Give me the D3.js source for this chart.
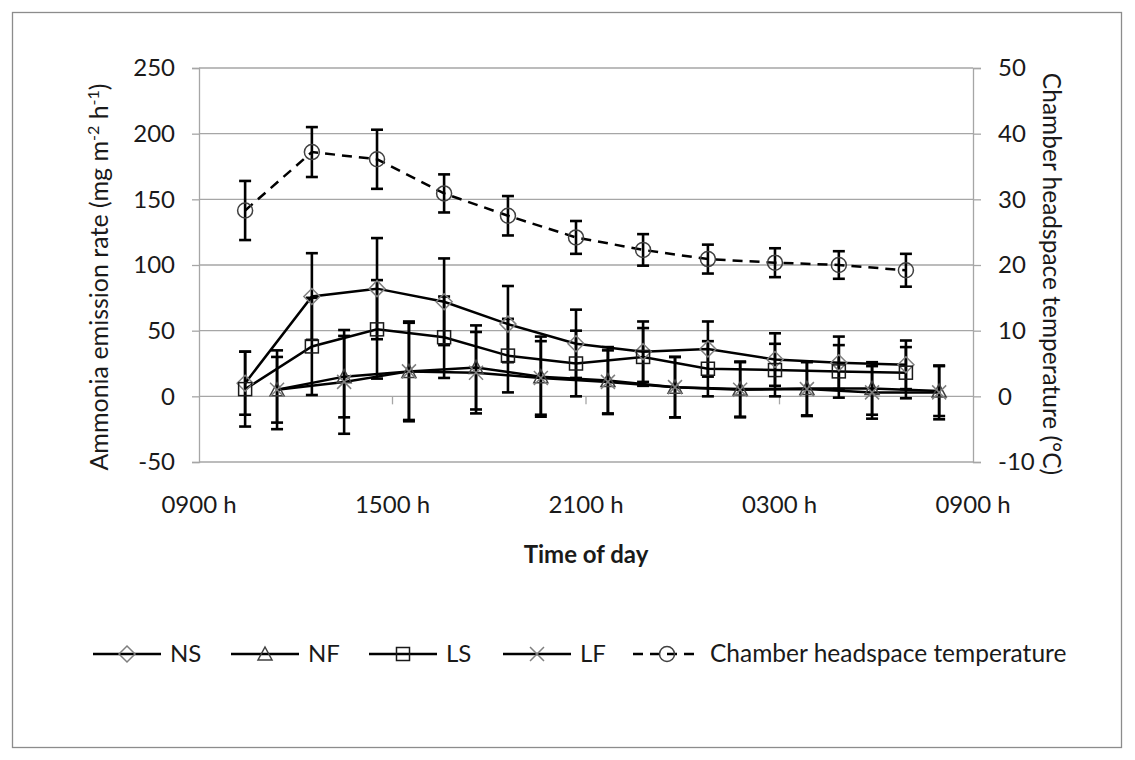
<!DOCTYPE html>
<html>
<head>
<meta charset="utf-8">
<script src="https://cdn.jsdelivr.net/npm/d3@7"></script>
<style>
  body { margin: 0; background: #fff; }
  svg { display: block; font-family: Lato, "Open Sans", sans-serif; }
</style>
</head>
<body>
<svg id="chart" width="1135" height="760"></svg>
<script>
// Sampling times, hours elapsed since 0900 h
const hoursSlurry = [1.43, 3.50, 5.52, 7.60, 9.58, 11.69, 13.77, 15.78, 17.86, 19.84, 21.92];
const hoursFresh  = [2.42, 4.50, 6.51, 8.59, 10.60, 12.68, 14.76, 16.78, 18.85, 20.87, 22.95];

// Ammonia emission rate (mg m-2 h-1) and error half-widths
const nsValues = [10, 76, 82, 72, 55, 40, 34, 36, 28, 25.5, 24];
const nsErrors = [24, 33, 38.5, 33, 29, 26, 23, 21, 20, 20, 18.5];
const lsValues = [5.5, 38, 51, 45, 31, 25, 30, 21, 20, 19, 18];
const lsErrors = [28.5, 37, 37.5, 31, 28, 25, 22, 21, 20, 20, 19.5];
const nfValues = [5, 15, 19, 22, 15, 12, 7, 5.5, 6, 6, 4];
const nfErrors = [30, 31, 37, 32, 30.5, 25.5, 23, 21, 20.5, 20, 19];
const lfValues = [5, 11, 19, 18, 14, 11, 7, 5, 5.5, 3, 3];
const lfErrors = [25, 39.5, 38, 31, 28, 24, 23, 21, 20.5, 20, 20.5];

// Chamber headspace temperature (°C)
const tempValues = [28.3, 37.2, 36.1, 30.9, 27.5, 24.2, 22.3, 20.9, 20.35, 20.0, 19.2];
const tempErrors = [4.5, 3.8, 4.5, 2.9, 3.0, 2.5, 2.4, 2.2, 2.2, 2.1, 2.5];

// Axis ticks
const xTickHours  = [0, 6, 12, 18, 24];
const xTickLabels = ["0900 h", "1500 h", "2100 h", "0300 h", "0900 h"];
const leftTicks   = [-50, 0, 50, 100, 150, 200, 250];
const rightTicks  = [-10, 0, 10, 20, 30, 40, 50];

const svg = d3.select("#chart");
const FONT = 24;
const TEXT = "#1a1a1a";
const GRID = "#a6a6a6";

// Chart area frame
svg.append("rect")
  .attr("x", 12.5).attr("y", 12.5).attr("width", 1109).attr("height", 735)
  .attr("fill", "#fff").attr("stroke", "#8c8c8c").attr("stroke-width", 1.3);

const x  = d3.scaleLinear().domain([0, 24]).range([199, 973]);
const yL = d3.scaleLinear().domain([-50, 250]).range([462, 68]);
const yR = d3.scaleLinear().domain([-10, 50]).range([462, 68]);

// Horizontal gridlines
svg.append("g").selectAll("line").data(leftTicks).join("line")
  .attr("x1", x(0)).attr("x2", x(24))
  .attr("y1", d => yL(d)).attr("y2", d => yL(d))
  .attr("stroke", GRID).attr("stroke-width", 1.3);

// Left axis
const gL = svg.append("g").attr("transform", `translate(${x(0)},0)`)
  .call(d3.axisLeft(yL).tickValues(leftTicks).tickFormat(d => String(d)).tickSize(7).tickPadding(17));
gL.select(".domain").attr("stroke", GRID).attr("stroke-width", 1.3);
gL.selectAll(".tick line").attr("stroke", GRID).attr("stroke-width", 1.3);
gL.selectAll(".tick text").attr("font-size", FONT).attr("fill", TEXT)
  .attr("font-family", "Lato, sans-serif");

// Right axis
const gR = svg.append("g").attr("transform", `translate(${x(24)},0)`)
  .call(d3.axisRight(yR).tickValues(rightTicks).tickFormat(d => String(d)).tickSize(8).tickPadding(17));
gR.select(".domain").attr("stroke", GRID).attr("stroke-width", 1.3);
gR.selectAll(".tick line").attr("stroke", GRID).attr("stroke-width", 1.3);
gR.selectAll(".tick text").attr("font-size", FONT).attr("fill", TEXT)
  .attr("font-family", "Lato, sans-serif");

// Category axis crossing at zero, with its labels placed below the plot
svg.append("g").selectAll("line").data(xTickHours.slice(1, -1)).join("line")
  .attr("x1", d => x(d)).attr("x2", d => x(d))
  .attr("y1", yL(0)).attr("y2", yL(0) + 8)
  .attr("stroke", GRID).attr("stroke-width", 1.3);

svg.append("g").selectAll("text").data(xTickHours).join("text")
  .attr("x", d => x(d)).attr("y", 513)
  .attr("text-anchor", "middle").attr("font-size", FONT).attr("fill", TEXT)
  .text((d, i) => xTickLabels[i]);

// Axis titles
svg.append("text")
  .attr("x", x(12)).attr("y", 563)
  .attr("text-anchor", "middle").attr("font-size", FONT).attr("font-weight", "bold")
  .attr("fill", TEXT).text("Time of day");

const yTitle = svg.append("text")
  .attr("transform", "translate(108,277) rotate(-90)")
  .attr("text-anchor", "middle").attr("font-size", 25).attr("fill", TEXT);
yTitle.append("tspan").text("Ammonia emission rate (mg m");
yTitle.append("tspan").attr("font-size", 16).attr("dy", -9).text("-2");
yTitle.append("tspan").attr("dy", 9).text(" h");
yTitle.append("tspan").attr("font-size", 16).attr("dy", -9).text("-1");
yTitle.append("tspan").attr("dy", 9).text(")");

svg.append("text")
  .attr("transform", "translate(1043,274) rotate(90)")
  .attr("text-anchor", "middle").attr("font-size", 24.5).attr("fill", TEXT)
  .text("Chamber headspace temperature (°C)");

// Series definitions
const series = [
  { name: "NS", hours: hoursSlurry, values: nsValues, errors: nsErrors, y: yL, marker: "diamond", color: "#7f7f7f" },
  { name: "NF", hours: hoursFresh,  values: nfValues, errors: nfErrors, y: yL, marker: "triangle", color: "#404040" },
  { name: "LS", hours: hoursSlurry, values: lsValues, errors: lsErrors, y: yL, marker: "square", color: "#1a1a1a" },
  { name: "LF", hours: hoursFresh,  values: lfValues, errors: lfErrors, y: yL, marker: "cross", color: "#7f7f7f" },
  { name: "Chamber headspace temperature", hours: hoursSlurry, values: tempValues, errors: tempErrors, y: yR, marker: "circle", color: "#404040", dashed: true }
];

function drawMarker(g, type, cx, cy, color) {
  const s = 7;
  if (type === "diamond") {
    g.append("path").attr("d", `M${cx},${cy - s - 1}L${cx + s + 1},${cy}L${cx},${cy + s + 1}L${cx - s - 1},${cy}Z`)
      .attr("fill", "none").attr("stroke", color).attr("stroke-width", 1.5);
  } else if (type === "triangle") {
    g.append("path").attr("d", `M${cx},${cy - s}L${cx + s},${cy + s - 1}L${cx - s},${cy + s - 1}Z`)
      .attr("fill", "none").attr("stroke", color).attr("stroke-width", 1.5);
  } else if (type === "square") {
    g.append("rect").attr("x", cx - 6.5).attr("y", cy - 6.5).attr("width", 13).attr("height", 13)
      .attr("fill", "none").attr("stroke", color).attr("stroke-width", 1.5);
  } else if (type === "cross") {
    g.append("path").attr("d", `M${cx - s},${cy - s}L${cx + s},${cy + s}M${cx - s},${cy + s}L${cx + s},${cy - s}`)
      .attr("fill", "none").attr("stroke", color).attr("stroke-width", 1.5);
  } else if (type === "circle") {
    g.append("circle").attr("cx", cx).attr("cy", cy).attr("r", 7.5)
      .attr("fill", "none").attr("stroke", color).attr("stroke-width", 1.5);
  }
}

const plot = svg.append("g");

// Error bars
series.forEach(s => {
  const g = plot.append("g");
  s.values.forEach((v, i) => {
    const cx = x(s.hours[i]);
    const top = s.y(v + s.errors[i]);
    const bot = s.y(v - s.errors[i]);
    g.append("line").attr("x1", cx).attr("x2", cx).attr("y1", top).attr("y2", bot)
      .attr("stroke", "#000").attr("stroke-width", 2.6);
    [top, bot].forEach(yy => g.append("line")
      .attr("x1", cx - 6).attr("x2", cx + 6).attr("y1", yy).attr("y2", yy)
      .attr("stroke", "#000").attr("stroke-width", 2.6));
  });
});

// Series lines
series.forEach(s => {
  const line = d3.line().x((d, i) => x(s.hours[i])).y(d => s.y(d));
  plot.append("path").attr("d", line(s.values))
    .attr("fill", "none").attr("stroke", "#000").attr("stroke-width", 2.5)
    .attr("stroke-dasharray", s.dashed ? "10,7" : null);
});

// Markers
series.forEach(s => {
  const g = plot.append("g");
  s.values.forEach((v, i) => drawMarker(g, s.marker, x(s.hours[i]), s.y(v), s.color));
});

// Legend: one entry per series, symbol line followed by its name
const legendStarts = [93, 231, 369, 503, 633];
const ly = 654;
series.forEach((s, i) => {
  const lx = legendStarts[i];
  const g = legend_g().append("g");
  g.append("line").attr("x1", lx).attr("x2", lx + 68).attr("y1", ly).attr("y2", ly)
    .attr("stroke", "#000").attr("stroke-width", 2.5)
    .attr("stroke-dasharray", s.dashed ? "10,7" : null);
  drawMarker(g, s.marker, lx + 34, ly, s.color);
  g.append("text").attr("x", lx + 77).attr("y", ly + 8)
    .attr("font-size", s.dashed ? 24.5 : FONT).attr("fill", TEXT).text(s.name);
});
function legend_g() { return svg; }
</script>
</body>
</html>
